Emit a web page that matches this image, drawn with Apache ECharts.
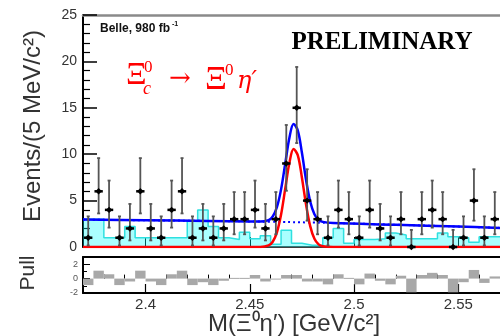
<!DOCTYPE html>
<html><head><meta charset="utf-8">
<script src="https://cdn.jsdelivr.net/npm/echarts@6/dist/echarts.min.js"></script>
<style>html,body{margin:0;padding:0;background:#fff}#c{width:500px;height:336px}</style>
</head><body><div id="c"></div>
<script>
// ---- data ----
const binCenters = [2.3725,2.3775,2.3825,2.3875,2.3925,2.3975,2.4025,2.4075,2.4125,2.4175,
                    2.4225,2.4275,2.4325,2.4375,2.4425,2.4475,2.4525,2.4575,2.4625,2.4675,
                    2.4725,2.4775,2.4825,2.4875,2.4925,2.4975,2.5025,2.5075,2.5125,2.5175,
                    2.5225,2.5275,2.5325,2.5375,2.5425,2.5475,2.5525,2.5575,2.5625,2.5675];
const counts   = [1,6,4,1,2,6,2,1,4,6, 1,2,1,2,3,3,4,2,3,9, 15,5,3,1,4,3,1,4,2,1, 3,0,3,4,3,0,1,5,1,3];
const errLow   = [0.17,3.62,2.09,0.17,0.71,3.62,0.71,0.17,2.09,3.62, 0.17,0.71,0.17,0.71,1.37,1.37,2.09,0.71,1.37,6.06,
                  11.2,2.84,1.37,0.17,2.09,1.37,0.17,2.09,0.71,0.17, 1.37,0,1.37,2.09,1.37,0,0.17,2.84,0.17,1.37];
const errHigh  = [3.30,9.58,7.16,3.30,4.64,9.58,4.64,3.30,7.16,9.58, 3.30,4.64,3.30,4.64,5.92,5.92,7.16,4.64,5.92,13.15,
                  19.4,8.38,5.92,3.30,7.16,5.92,3.30,7.16,4.64,3.30, 5.92,1.84,5.92,7.16,5.92,1.84,3.30,8.38,3.30,5.92];
const histValues = [3,3,1,1,2.2,1,1,1,1,1, 2.8,4,2.2,1,0.8,1.6,0.9,1.2,0.3,1.8,
                    0.4,0.2,0.2,1,2,0.4,0.8,0.8,0.9,1.5, 1.3,0.9,0.9,0.9,1.5,1.1,1,0.5,1.1,1.1];
const pullValues = [-0.9,1.1,0.6,-0.9,-0.4,1.1,-0.4,-0.9,0.6,1.1, -0.9,-0.5,-0.9,-0.3,0.1,0.1,0.5,-0.4,-0.1,0.5,
                    0.5,-0.4,-0.4,-0.8,0.6,0.1,-0.8,0.7,-0.3,-0.8, 0.4,-1.9,0.5,0.8,0.5,-1.9,-0.5,1.2,-0.6,0.3];
const totalFitX = [2.37,2.40,2.43,2.45,2.455,2.459,2.461,2.463,2.465,2.467,2.469,2.471,2.473,2.475,2.477,2.479,2.481,2.483,2.485,2.49,2.52,2.55,2.57];
const totalFitY = [2.95,2.88,2.81,2.75,2.74,2.90,3.29,4.29,6.21,8.99,11.77,13.25,12.57,10.15,7.21,4.88,3.54,2.93,2.71,2.58,2.40,2.20,2.06];
const signalX = [2.37,2.455,2.459,2.461,2.463,2.465,2.467,2.469,2.471,2.473,2.475,2.477,2.479,2.481,2.483,2.485,2.49,2.57];
const signalY = [0,0,0.17,0.57,1.57,3.50,6.29,9.07,10.56,9.89,7.47,4.54,2.22,0.88,0.28,0.07,0,0];
const bkgX = [2.37,2.40,2.43,2.46,2.49,2.52,2.55,2.57];
const bkgY = [2.95,2.88,2.81,2.72,2.58,2.40,2.20,2.06];
const xMajorTicks = [2.4,2.45,2.5,2.55];
const xMinorTicks = [2.37,2.38,2.39,2.41,2.42,2.43,2.44,2.46,2.47,2.48,2.49,2.51,2.52,2.53,2.54,2.56,2.57];
const binWidth = 0.005;
const xMin = 2.37, xMax = 2.57;

const histEdges = binCenters.map((c,i)=>[c - binWidth/2, histValues[i]]);
histEdges.push([binCenters[binCenters.length-1] + binWidth/2, histValues[histValues.length-1]]);

const chart = echarts.init(document.getElementById('c'), null, {renderer:'canvas'});
const sans = '"Liberation Sans", Arial, sans-serif';
const serif = '"Liberation Serif", "Times New Roman", serif';
const mathSerif = '"DejaVu Serif", serif';

const option = {
  animation:false,
  backgroundColor:'#fff',
  grid:[
    {left:83, top:15, width:420, height:232},
    {left:83, top:257, width:420, height:36}
  ],
  xAxis:[
    {gridIndex:0, type:'value', min:xMin, max:xMax, position:'bottom',
     axisLine:{show:true, onZero:false, lineStyle:{color:'#000', width:1.5}},
     axisTick:{show:true, inside:true, length:10, customValues:xMajorTicks, lineStyle:{color:'#000'}},
     axisLabel:{show:false}, splitLine:{show:false}},
    {gridIndex:0, type:'value', min:xMin, max:xMax, position:'top',
     axisLine:{show:true, onZero:false, lineStyle:{color:'#8a8a8a', width:2.5}},
     axisTick:{show:false}, axisLabel:{show:false}, splitLine:{show:false}},
    {gridIndex:1, type:'value', min:xMin, max:xMax, position:'bottom',
     axisLine:{show:true, onZero:false, lineStyle:{color:'#000', width:2}},
     axisTick:{show:true, inside:true, length:9, customValues:xMajorTicks, lineStyle:{color:'#000', width:1.2}},
     axisLabel:{show:true, customValues:xMajorTicks, fontSize:15, color:'#333', fontFamily:sans, margin:4},
     splitLine:{show:false}},
    {gridIndex:1, type:'value', min:xMin, max:xMax, position:'bottom',
     axisLine:{show:false},
     axisTick:{show:true, inside:true, length:4, customValues:xMinorTicks, lineStyle:{color:'#000'}},
     axisLabel:{show:false}, splitLine:{show:false}},
    {gridIndex:1, type:'value', min:xMin, max:xMax, position:'top',
     axisLine:{show:true, onZero:false, lineStyle:{color:'#000', width:2}},
     axisTick:{show:false}, axisLabel:{show:false}, splitLine:{show:false}}
  ],
  yAxis:[
    {gridIndex:0, type:'value', min:0, max:25, interval:5,
     axisLine:{show:true, lineStyle:{color:'#000', width:2}},
     axisTick:{show:true, inside:true, length:14, lineStyle:{color:'#000', width:1.5}},
     minorTick:{show:true, splitNumber:5, length:7, lineStyle:{color:'#000', width:1.2}},
     axisLabel:{fontSize:14, color:'#333', fontFamily:sans, margin:6},
     splitLine:{show:false}},
    {gridIndex:1, type:'value', min:-2, max:3, interval:2,
     axisLine:{show:true, lineStyle:{color:'#000', width:2}},
     axisTick:{show:true, inside:true, length:7, lineStyle:{color:'#000'}},
     minorTick:{show:true, splitNumber:2, length:4, lineStyle:{color:'#000'}},
     axisLabel:{fontSize:9, color:'#555', fontFamily:sans, margin:5,
       formatter:v => (v===3 ? '' : String(v))},
     splitLine:{show:false}}
  ],
  series:[
    {type:'line', xAxisIndex:0, yAxisIndex:0, step:'end', data:histEdges, symbol:'none',
     lineStyle:{color:'#2fe0e0', width:1.5}, areaStyle:{color:'rgba(0,255,255,0.48)', origin:'start'}, z:2},
    {type:'line', xAxisIndex:0, yAxisIndex:0, data:bkgX.map((x,i)=>[x,bkgY[i]]), symbol:'none', smooth:true,
     lineStyle:{color:'#0000ff', width:2, type:[2,3]}, z:3},
    {type:'line', xAxisIndex:0, yAxisIndex:0, data:signalX.map((x,i)=>[x,signalY[i]]), symbol:'none', smooth:0.35,
     lineStyle:{color:'#ff0000', width:2.5}, z:4},
    {type:'line', xAxisIndex:0, yAxisIndex:0, data:totalFitX.map((x,i)=>[x,totalFitY[i]]), symbol:'none', smooth:0.35,
     lineStyle:{color:'#0000ff', width:2.5}, z:5},
    {type:'custom', xAxisIndex:0, yAxisIndex:0, z:6,
     data:binCenters.map((x,i)=>[x, counts[i], errLow[i], errHigh[i]]),
     encode:{x:0, y:1},
     renderItem:(params, api)=>{
       const x = api.value(0), v = api.value(1), lo = api.value(2), hi = api.value(3);
       const pT = api.coord([x, hi]), pB = api.coord([x, lo]), pC = api.coord([x, v]);
       const pL = api.coord([x - 0.002, v]), pR = api.coord([x + 0.002, v]);
       const gray = {stroke:'#555', lineWidth:1.8};
       return {type:'group', children:[
         {type:'line', shape:{x1:pT[0], y1:pT[1], x2:pB[0], y2:pB[1]}, style:gray},
         {type:'line', shape:{x1:pT[0]-1.5, y1:pT[1], x2:pT[0]+1.5, y2:pT[1]}, style:gray},
         {type:'line', shape:{x1:pB[0]-1.5, y1:pB[1], x2:pB[0]+1.5, y2:pB[1]}, style:gray},
         {type:'line', shape:{x1:pL[0], y1:pL[1], x2:pR[0], y2:pR[1]}, style:{stroke:'#000', lineWidth:2.5}},
         {type:'polygon', shape:{points:[[pC[0],pC[1]-3.2],[pC[0]+3.2,pC[1]],[pC[0],pC[1]+3.2],[pC[0]-3.2,pC[1]]]}, style:{fill:'#000'}}
       ]};
     }},
    {type:'custom', xAxisIndex:2, yAxisIndex:1, z:3,
     data:binCenters.map((x,i)=>[x, pullValues[i]]),
     encode:{x:0, y:1},
     renderItem:(params, api)=>{
       const x = api.value(0), p = api.value(1);
       const a = api.coord([x - binWidth/2, 0]), b = api.coord([x + binWidth/2, p]);
       return {type:'rect', shape:{x:a[0], y:Math.min(a[1],b[1]), width:b[0]-a[0], height:Math.max(Math.abs(b[1]-a[1]),1)},
               style:{fill:'#a8a8a8'}};
     }}
  ],
  graphic:[
    {type:'text', x:33, y:126, rotation:Math.PI/2,
     style:{text:'Events/(5 MeV/c²)', font:'24px '+sans, fill:'#333', align:'center', verticalAlign:'middle'}},
    {type:'text', x:28, y:273, rotation:Math.PI/2,
     style:{text:'Pull', font:'21px '+sans, fill:'#333', align:'center', verticalAlign:'middle'}},
    {type:'text', x:294, y:324,
     style:{text:'M(Ξ⁰η′) [GeV/c²]', font:'24px '+sans, fill:'#333', align:'center', verticalAlign:'middle'}},
    {type:'text', x:100, y:29,
     style:{text:'Belle, 980 fb', font:'bold 12px '+sans, fill:'#111', align:'left', verticalAlign:'middle'}},
    {type:'text', x:172, y:24,
     style:{text:'-1', font:'bold 7px '+sans, fill:'#111', align:'left', verticalAlign:'middle'}},
    {type:'text', x:382, y:43,
     style:{text:'PRELIMINARY', font:'bold 25px '+serif, fill:'#000', align:'center', verticalAlign:'middle'}},
    {type:'text', x:126, y:76, style:{text:'Ξ', font:'32px '+serif, fill:'#ff0000', align:'left', verticalAlign:'middle'}},
    {type:'text', x:144, y:68, style:{text:'0', font:'17px '+serif, fill:'#ff0000', align:'left', verticalAlign:'middle'}},
    {type:'text', x:143, y:89, style:{text:'c', font:'italic 18px '+serif, fill:'#ff0000', align:'left', verticalAlign:'middle'}},
    {type:'text', x:169, y:79, style:{text:'→', font:'26px '+mathSerif, fill:'#ff0000', align:'left', verticalAlign:'middle'}},
    {type:'text', x:205, y:80, style:{text:'Ξ', font:'34px '+serif, fill:'#ff0000', align:'left', verticalAlign:'middle'}},
    {type:'text', x:225, y:71, style:{text:'0', font:'17px '+serif, fill:'#ff0000', align:'left', verticalAlign:'middle'}},
    {type:'text', x:237, y:82, style:{text:'η′', font:'italic 24px '+mathSerif, fill:'#ff0000', align:'left', verticalAlign:'middle'}}
  ]
};
chart.setOption(option);
</script></body></html>
